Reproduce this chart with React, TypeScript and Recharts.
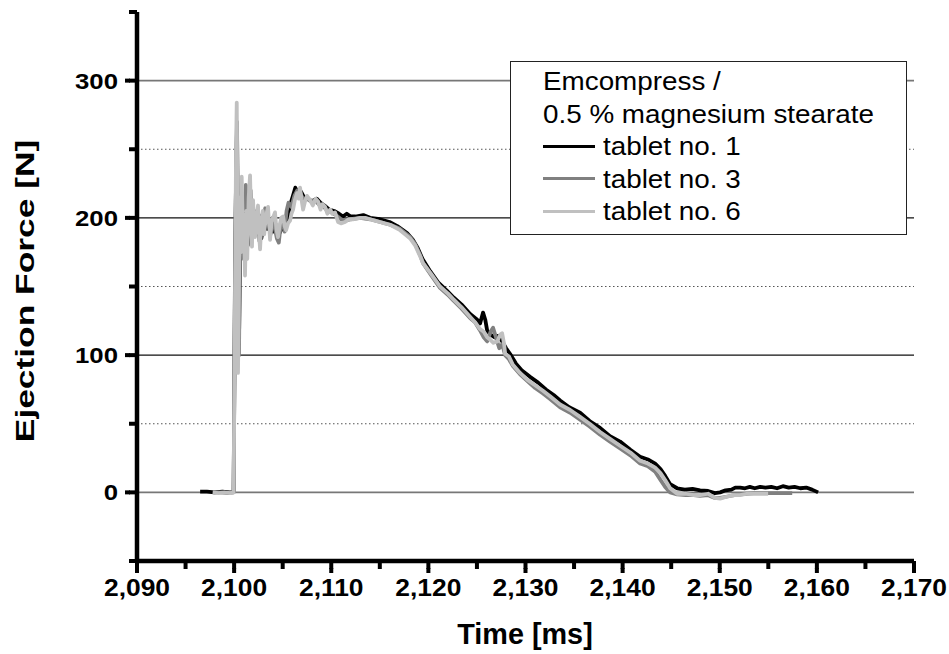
import React from 'react';
import { LineChart, Line, XAxis, YAxis, CartesianGrid, Legend } from 'recharts';

const FONT = '"Liberation Sans", Arial, Helvetica, sans-serif';

// Axis ticks (minor every 5 ms / 50 N, labelled every 10 ms / 100 N)
const timeTicks = [2090, 2095, 2100, 2105, 2110, 2115, 2120, 2125, 2130, 2135, 2140, 2145, 2150, 2155, 2160, 2165, 2170];
const forceTicks = [-50, 0, 50, 100, 150, 200, 250, 300, 350];
const solidDarkLevels = [100, 200];
const solidGreyLevels = [0, 300];
const dottedLevels = [50, 150, 250];

const legendTitle = ['Emcompress /', '0.5 % magnesium stearate'];
const seriesNames = ['tablet no. 1', 'tablet no. 3', 'tablet no. 6'];
const seriesColors = ['#000000', '#808080', '#c0c0c0'];

// [time ms, ejection force N]
const tablet1: [number, number][] = [
  [2096.5, 0.5], [2097.2, 0.5], [2098.0, 0], [2098.8, 0.5], [2099.5, 0], [2099.95, 0.5],
  [2100.1, 170], [2100.22, 240], [2100.3, 265], [2100.4, 150], [2100.5, 110], [2100.62, 180],
  [2100.8, 210], [2101.0, 175], [2101.2, 215], [2101.4, 180], [2101.6, 210], [2101.85, 185],
  [2102.05, 205], [2102.3, 188], [2102.55, 202], [2102.8, 185], [2103.1, 198], [2103.4, 192],
  [2103.7, 196], [2104.0, 190], [2104.3, 195], [2104.6, 188], [2104.9, 192], [2105.2, 196],
  [2105.55, 201], [2105.8, 210], [2106.05, 216], [2106.3, 222], [2106.6, 217], [2106.9, 219],
  [2107.2, 215], [2107.6, 214], [2108.0, 212], [2108.5, 214], [2108.9, 211], [2109.3, 209],
  [2109.8, 206], [2110.3, 205], [2110.8, 203], [2111.2, 201], [2111.6, 203], [2112.0, 201],
  [2112.5, 201], [2113.3, 202], [2114.0, 200], [2115.0, 199], [2116.0, 197], [2116.8, 194],
  [2117.8, 189], [2118.4, 184], [2118.9, 178], [2119.4, 170], [2120.2, 161], [2121.0, 153],
  [2121.9, 147], [2122.6, 142], [2123.4, 137], [2124.3, 130], [2125.0, 126], [2125.32, 123],
  [2125.63, 131], [2125.85, 126], [2126.05, 118], [2126.4, 115], [2126.8, 113], [2127.2, 114],
  [2127.6, 110], [2128.0, 105], [2128.4, 101], [2129.0, 94], [2129.6, 89], [2130.5, 84],
  [2131.3, 80], [2132.1, 75], [2132.9, 71], [2133.56, 67], [2134.5, 62], [2135.62, 58],
  [2136.6, 52], [2137.68, 47], [2138.7, 41], [2139.74, 37], [2140.8, 31], [2141.8, 26],
  [2142.6, 24], [2143.35, 21], [2143.9, 17], [2144.38, 12], [2144.89, 6], [2145.61, 3],
  [2146.4, 2], [2147.2, 2.5], [2147.98, 1.5], [2148.8, 1], [2149.5, -0.5], [2150.04, 0],
  [2150.6, 1.5], [2151.2, 2], [2151.6, 3.5], [2152.1, 3.5], [2152.6, 3], [2153.1, 4],
  [2153.6, 3], [2154.16, 4], [2154.7, 3.5], [2155.3, 4], [2155.9, 3], [2156.5, 4.5],
  [2157.1, 3.5], [2157.7, 4], [2158.3, 3], [2158.9, 3.5], [2159.5, 2], [2160.13, 0],
];

const tablet3: [number, number][] = [
  [2097.8, 0], [2098.6, 0], [2099.4, -0.5], [2099.95, 0], [2100.1, 160], [2100.22, 245],
  [2100.3, 270], [2100.4, 140], [2100.5, 100], [2100.62, 190], [2100.8, 215], [2101.0, 170],
  [2101.2, 224], [2101.35, 185], [2101.5, 200], [2101.7, 220], [2101.85, 185], [2102.0, 205],
  [2102.2, 190], [2102.4, 205], [2102.6, 183], [2102.8, 200], [2103.0, 195], [2103.2, 207],
  [2103.5, 200], [2103.75, 188], [2103.95, 200], [2104.2, 192], [2104.4, 185], [2104.6, 182],
  [2104.8, 195], [2105.0, 198], [2105.2, 190], [2105.4, 205], [2105.6, 211], [2105.9, 208],
  [2106.2, 216], [2106.5, 220], [2106.8, 218], [2107.1, 214], [2107.5, 214], [2107.9, 212],
  [2108.3, 213], [2108.7, 210], [2109.1, 209], [2109.5, 206], [2110.0, 204], [2110.5, 202],
  [2111.0, 199], [2111.5, 198], [2112.0, 199], [2112.97, 200], [2114.0, 199], [2115.03, 197],
  [2116.06, 195], [2117.09, 192], [2118.12, 186], [2118.63, 181], [2119.15, 173], [2119.45, 167],
  [2120.3, 158], [2121.2, 149], [2122.0, 144], [2122.54, 140], [2123.4, 134], [2124.29, 127],
  [2124.8, 124], [2125.32, 118], [2125.7, 113], [2126.05, 110], [2126.4, 117], [2126.66, 120],
  [2127.0, 112], [2127.3, 105], [2127.6, 108], [2127.9, 100], [2128.3, 97], [2128.7, 92],
  [2129.44, 86], [2130.2, 81], [2130.99, 76], [2131.8, 72], [2132.53, 68], [2133.56, 62],
  [2134.6, 58], [2135.62, 53], [2136.6, 48], [2137.68, 42], [2138.7, 37], [2139.74, 32],
  [2140.8, 27], [2141.8, 21], [2142.6, 19], [2143.35, 15], [2143.9, 9], [2144.38, 4],
  [2144.89, 0], [2145.61, -1.5], [2146.5, -2], [2147.3, -2], [2147.98, -2.5], [2148.8, -2],
  [2149.5, -4], [2150.04, -4], [2150.8, -3], [2151.5, -2], [2152.1, -1.5], [2152.8, -1],
  [2153.5, -0.5], [2154.16, -0.5], [2155.0, -0.5], [2155.8, -0.5], [2156.6, -0.5], [2157.46, -0.5],
];

const tablet6: [number, number][] = [
  [2097.8, 0], [2098.4, -0.5], [2099.0, 0], [2099.6, -0.5], [2099.95, 0], [2100.1, 150],
  [2100.2, 250], [2100.27, 284], [2100.34, 200], [2100.4, 87], [2100.5, 150], [2100.6, 215],
  [2100.7, 175], [2100.78, 230], [2100.9, 190], [2101.0, 200], [2101.12, 158], [2101.25, 205],
  [2101.35, 170], [2101.5, 215], [2101.64, 231], [2101.74, 200], [2101.84, 179], [2101.95, 213],
  [2102.05, 195], [2102.15, 186], [2102.3, 200], [2102.46, 209], [2102.56, 190], [2102.67, 177],
  [2102.8, 195], [2102.95, 205], [2103.1, 188], [2103.25, 200], [2103.49, 208], [2103.6, 195],
  [2103.7, 184], [2103.85, 197], [2104.0, 200], [2104.21, 204], [2104.35, 192], [2104.52, 186],
  [2104.7, 195], [2104.85, 200], [2105.04, 201], [2105.2, 194], [2105.35, 191], [2105.55, 196],
  [2105.76, 198], [2105.9, 203], [2106.07, 206], [2106.25, 213], [2106.48, 218], [2106.65, 214],
  [2106.79, 222], [2106.95, 213], [2107.1, 206], [2107.3, 212], [2107.5, 216], [2107.82, 213],
  [2108.1, 209], [2108.4, 214], [2108.64, 212], [2108.9, 206], [2109.1, 210], [2109.36, 208],
  [2109.6, 203], [2109.9, 206], [2110.1, 203], [2110.39, 204], [2110.7, 197], [2111.0, 196],
  [2111.42, 197], [2111.8, 199], [2112.3, 199], [2112.97, 200], [2113.5, 200], [2114.0, 199],
  [2114.5, 198], [2115.03, 197], [2115.5, 196], [2116.06, 195], [2116.6, 193], [2117.09, 191],
  [2117.6, 188], [2118.12, 185], [2118.63, 180], [2119.15, 172], [2119.45, 167], [2120.3, 159],
  [2121.2, 150], [2122.0, 145], [2122.54, 141], [2123.4, 135], [2124.29, 128], [2124.8, 124],
  [2125.32, 119], [2125.7, 117], [2126.05, 113], [2126.4, 111], [2126.7, 109], [2127.1, 110],
  [2127.4, 115], [2127.59, 116], [2127.8, 108], [2127.9, 101], [2128.3, 99], [2128.7, 93],
  [2129.44, 87], [2130.2, 82], [2130.99, 78], [2131.8, 74], [2132.53, 70], [2133.56, 64],
  [2134.6, 60], [2135.62, 55], [2136.6, 50], [2137.68, 44], [2138.7, 39], [2139.74, 34],
  [2140.8, 29], [2141.8, 23], [2142.6, 21], [2143.35, 18], [2143.9, 14], [2144.38, 9],
  [2144.89, 3], [2145.61, -1], [2146.5, -1], [2147.3, -2], [2147.98, -2], [2148.8, -1],
  [2149.5, -4], [2150.04, -4.5], [2150.8, -3], [2151.5, -2], [2152.1, -2], [2152.8, -1],
  [2153.5, -1], [2154.16, -1], [2154.98, -1],
];

const toRows = (pts: [number, number][]) => pts.map(([time, force]) => ({ time, force }));
const seriesData = [toRows(tablet1), toRows(tablet3), toRows(tablet6)];

const formatTime = (v: number) => `${Math.floor(v / 1000)},${String(v % 1000).padStart(3, '0')}`;

// Built-in tick lines are 8 px; labelled ticks get a 4 px extension.
const TICK = 8;

function TimeTick(props: any) {
  const { x, y, payload } = props;
  const v = payload.value as number;
  const major = v % 10 === 0;
  if (!major) return <g />;
  return (
    <g>
      <rect x={x - 2} y={y - 1} width={4} height={5} fill="#000" />
      <text
        transform={`translate(${x} ${y + 27}) scale(1.1 1)`}
        textAnchor="middle"
        fontSize={24}
        fontWeight="bold"
        fontFamily={FONT}
        fill="#000"
      >
        {formatTime(v)}
      </text>
    </g>
  );
}

function ForceTick(props: any) {
  const { x, y, payload } = props;
  const v = payload.value as number;
  const major = v % 100 === 0;
  if (!major) return <g />;
  return (
    <g>
      <rect x={x - 4} y={y - 2} width={5} height={4} fill="#000" />
      <text
        transform={`translate(${x - 11} ${y + 8}) scale(1.17 1)`}
        textAnchor="end"
        fontSize={22}
        fontWeight="bold"
        fontFamily={FONT}
        fill="#000"
      >
        {v}
      </text>
    </g>
  );
}

function LegendBox(props: any) {
  const items: any[] = props.payload && props.payload.length ? props.payload : seriesNames.map((n, i) => ({ value: n, color: seriesColors[i] }));
  const rowCenters = [19, 51.5, 84, 116.5, 149];
  const textStyle: React.CSSProperties = {
    position: 'absolute',
    fontFamily: FONT,
    fontSize: 26,
    lineHeight: '32px',
    height: 32,
    whiteSpace: 'nowrap',
    color: '#000',
    transform: 'scaleX(1.07)',
    transformOrigin: 'left center',
  };
  return (
    <div
      style={{
        position: 'relative',
        width: 397,
        height: 174,
        boxSizing: 'border-box',
        border: '1.5px solid #222',
        background: '#fff',
      }}
    >
      {legendTitle.map((t, i) => (
        <div key={t} style={{ ...textStyle, left: 32, top: rowCenters[i] - 16 }}>{t}</div>
      ))}
      {items.map((it, i) => (
        <React.Fragment key={it.value}>
          <div
            style={{
              position: 'absolute',
              left: 32,
              top: rowCenters[i + 2] - 1.5,
              width: 52,
              height: 3,
              background: it.color,
            }}
          />
          <div style={{ ...textStyle, left: 92, top: rowCenters[i + 2] - 16 }}>{it.value}</div>
        </React.Fragment>
      ))}
    </div>
  );
}

export default function App() {
  return (
    <div style={{ position: 'absolute', left: 0, top: 0, width: 949, height: 654, background: '#fff' }}>
      <LineChart width={949} height={654} margin={{ top: 12, right: 35, bottom: 0, left: 0 }}>
        <CartesianGrid horizontal vertical={false} horizontalValues={dottedLevels} stroke="#555" strokeWidth={1} strokeDasharray="1.5 2.5" />
        <CartesianGrid horizontal vertical={false} horizontalValues={solidDarkLevels} stroke="#111" strokeWidth={1.3} />
        <CartesianGrid horizontal vertical={false} horizontalValues={solidGreyLevels} stroke="#777" strokeWidth={1.8} />
        {seriesData.map((rows, i) => (
          <Line
            key={seriesNames[i]}
            data={rows}
            dataKey="force"
            name={seriesNames[i]}
            type="linear"
            stroke={seriesColors[i]}
            strokeWidth={3.8}
            strokeLinejoin="round"
            dot={false}
            activeDot={false}
            isAnimationActive={false}
          />
        ))}
        <XAxis
          dataKey="time"
          type="number"
          domain={[2090, 2170]}
          ticks={timeTicks}
          interval={0}
          allowDataOverflow
          height={93}
          tickSize={TICK}
          tickMargin={0}
          tickLine={{ stroke: '#000', strokeWidth: 4 }}
          axisLine={{ stroke: '#000', strokeWidth: 4.5 }}
          tick={<TimeTick />}
        />
        <YAxis
          type="number"
          domain={[-50, 350]}
          ticks={forceTicks}
          interval={0}
          allowDataOverflow
          width={137}
          tickSize={TICK}
          tickMargin={0}
          tickLine={{ stroke: '#000', strokeWidth: 4 }}
          axisLine={{ stroke: '#000', strokeWidth: 4.5 }}
          tick={<ForceTick />}
        />
        <Legend
          layout="vertical"
          align="center"
          verticalAlign="middle"
          content={<LegendBox />}
          wrapperStyle={{ left: 510, top: 61, width: 397, height: 174, margin: 0 }}
        />
      </LineChart>
      <svg width={949} height={654} style={{ position: 'absolute', left: 0, top: 0, pointerEvents: 'none' }}>
        <text
          transform="translate(34 291) rotate(-90) scale(1.36 1)"
          textAnchor="middle"
          fontSize={26}
          fontWeight="bold"
          fontFamily={FONT}
          fill="#000"
        >
          Ejection Force [N]
        </text>
        <text
          transform="translate(525 644) scale(0.96 1)"
          textAnchor="middle"
          fontSize={30}
          fontWeight="bold"
          fontFamily={FONT}
          fill="#000"
        >
          Time [ms]
        </text>
      </svg>
    </div>
  );
}
